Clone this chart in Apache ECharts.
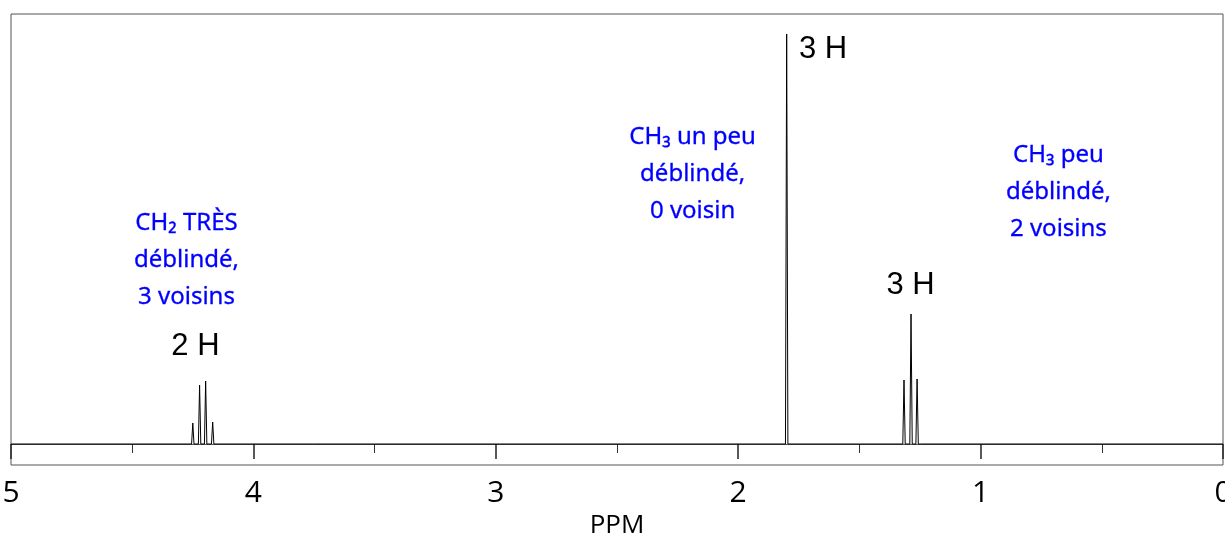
<!DOCTYPE html>
<html>
<head>
<meta charset="utf-8">
<script src="https://cdn.jsdelivr.net/npm/echarts@6/dist/echarts.min.js"></script>
<style>
html,body{margin:0;padding:0;background:#fff;}
#chart{width:1225px;height:538px;}
</style>
</head>
<body>
<div id="chart"></div>
<script>
// Peak positions (ppm) and heights
const peakPpm    = [4.250, 4.222, 4.197, 4.168, 1.800, 1.316, 1.287, 1.262];
const peakHeight = [21,    59,    63,    22,    410,   64,    130,   65];
// x-axis tick labels
const xTicks = [0, 1, 2, 3, 4, 5];
// Annotation texts and their anchor positions (ppm, intensity)
const annotText = [
  'CH\u2082 TRÈS\ndéblindé,\n3 voisins',
  'CH\u2083 un peu\ndéblindé,\n0 voisin',
  'CH\u2083 peu\ndéblindé,\n2 voisins'
];
const annotPpm = [4.274, 2.186, 0.677];
const annotY   = [183, 269, 251];
const hLabelText = ['2 H', '3 H', '3 H'];
const hLabelPpm  = [4.237, 1.648, 1.287];
const hLabelY    = [97, 394, 158];

// Build the spectrum polyline from the peak list (narrow peaks on a flat baseline)
const halfBase = 0.005;
const spectrum = [[5, 0]];
peakPpm.forEach((p, i) => {
  spectrum.push([p + halfBase, 0]);
  spectrum.push([p, peakHeight[i]]);
  spectrum.push([p - halfBase, 0]);
});
spectrum.push([0, 0]);

const chart = echarts.init(document.getElementById('chart'), null, {renderer: 'canvas'});
chart.setOption({
  animation: false,
  backgroundColor: '#ffffff',
  grid: {left: 11, right: 2, top: 14, bottom: 73, containLabel: false, outerBoundsMode: 'none',
         show: true, borderColor: '#555', borderWidth: 1, backgroundColor: 'transparent'},
  xAxis: {
    type: 'value', inverse: true, min: 0, max: 5, interval: 1,
    name: 'PPM', nameLocation: 'middle', nameGap: 46,
    nameTextStyle: {fontFamily: 'Open Sans', fontSize: 26, color: '#000'},
    axisLine: {show: true, lineStyle: {color: '#555', width: 1}},
    axisTick: {show: true, length: 15, lineStyle: {color: '#222', width: 1.5}},
    minorTick: {show: true, splitNumber: 2, length: 9, lineStyle: {color: '#333', width: 1}},
    splitLine: {show: false},
    axisLabel: {
      margin: 13, fontFamily: 'Open Sans', fontSize: 30, color: '#000',
      showMinLabel: true, showMaxLabel: true, hideOverlap: false,
      formatter: v => xTicks.includes(v) ? String(v) : ''
    }
  },
  yAxis: {
    type: 'value', min: -21, max: 430, show: false,
    splitLine: {show: false}
  },
  series: [
    {
      type: 'line', data: spectrum, showSymbol: false, symbol: 'none',
      lineStyle: {color: '#000', width: 1}, silent: true, z: 3
    },
    {
      type: 'scatter', symbol: 'circle', symbolSize: 1,
      itemStyle: {color: 'rgba(0,0,0,0)', opacity: 1}, silent: true,
      data: annotPpm.map((p, i) => ({value: [p, annotY[i]], label: {formatter: annotText[i]}})),
      label: {
        show: true, position: [0, 0], align: 'center', verticalAlign: 'middle',
        fontFamily: 'Noto Sans', fontSize: 24, lineHeight: 37, color: '#0000ff',
        textBorderWidth: 0.3, textBorderColor: '#0000ff'
      }
    },
    {
      type: 'scatter', symbol: 'circle', symbolSize: 1,
      itemStyle: {color: 'rgba(0,0,0,0)', opacity: 1}, silent: true,
      data: hLabelPpm.map((p, i) => ({value: [p, hLabelY[i]], label: {formatter: hLabelText[i]}})),
      label: {
        show: true, position: [0, 0], align: 'center', verticalAlign: 'middle',
        fontFamily: 'Liberation Sans', fontSize: 31, color: '#000'
      }
    }
  ]
});
</script>
</body>
</html>
